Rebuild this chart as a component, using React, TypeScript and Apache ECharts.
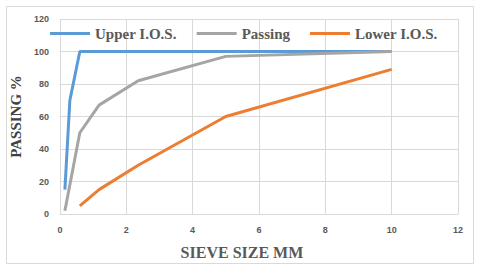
import React, { useEffect, useRef } from "react";
import * as echarts from "echarts";

const upperX = [0.15, 0.3, 0.6, 10];
const upperY = [15, 70, 100, 100];
const passingX = [0.15, 0.6, 1.18, 2.36, 5, 10];
const passingY = [2, 50, 67, 82, 97, 100];
const lowerX = [0.6, 1.18, 2.36, 5, 10];
const lowerY = [5, 15, 30, 60, 89];
const seriesNames = ["Upper I.O.S.", "Passing", "Lower I.O.S."];
const seriesColors = ["#5b9bd5", "#a5a5a5", "#ed7d31"];

const zip = (xs: number[], ys: number[]) => xs.map((x, i) => [x, ys[i]]);

export default function App() {
  const ref = useRef<HTMLDivElement>(null);
  useEffect(() => {
    if (!ref.current) return;
    const chart = echarts.init(ref.current, undefined, { renderer: "svg" });
    const datasets = [zip(upperX, upperY), zip(passingX, passingY), zip(lowerX, lowerY)];
    chart.setOption({
      animation: false,
      backgroundColor: "#ffffff",
      graphic: [
        {
          type: "rect",
          shape: { x: 6.5, y: 6.5, width: 467, height: 257 },
          style: { fill: "none", stroke: "#d9d9d9", lineWidth: 1 },
          z: -1,
        },
      ],
      grid: { left: 58, right: 22, top: 19, bottom: 57 },
      legend: {
        left: 48,
        top: 24,
        padding: [2, 4, 2, 2],
        itemWidth: 40,
        itemHeight: 3,
        itemGap: 20,
        icon: "rect",
        data: seriesNames,
        textStyle: {
          fontFamily: "Liberation Serif",
          fontWeight: "bold",
          fontSize: 15,
          color: "#595959",
        },
      },
      xAxis: {
        type: "value",
        min: 0,
        max: 12,
        interval: 2,
        name: "SIEVE SIZE MM",
        nameLocation: "middle",
        nameGap: 30,
        nameTextStyle: {
          fontFamily: "Liberation Serif",
          fontWeight: "bold",
          fontSize: 16,
          color: "#595959",
          padding: [0, 34, 0, 0],
        },
        axisLine: { show: true, lineStyle: { color: "#d9d9d9" } },
        axisTick: { show: false },
        axisLabel: {
          margin: 11,
          fontFamily: "Liberation Sans",
          fontWeight: "bold",
          fontSize: 9,
          color: "#595959",
        },
        splitLine: { show: true, lineStyle: { color: "#d9d9d9", width: 1 } },
      },
      yAxis: {
        type: "value",
        min: 0,
        max: 120,
        interval: 20,
        name: "PASSING %",
        nameLocation: "middle",
        nameGap: 24,
        nameTextStyle: {
          fontFamily: "Liberation Serif",
          fontWeight: "bold",
          fontSize: 15,
          color: "#404040",
        },
        axisLine: { show: false },
        axisTick: { show: false },
        axisLabel: {
          margin: 11,
          fontFamily: "Liberation Sans",
          fontWeight: "bold",
          fontSize: 9,
          color: "#595959",
        },
        splitLine: { show: true, lineStyle: { color: "#d9d9d9", width: 1 } },
      },
      series: datasets.map((d, i) => ({
        name: seriesNames[i],
        type: "line",
        data: d,
        symbol: "none",
        color: seriesColors[i],
        lineStyle: { width: 3, color: seriesColors[i] },
      })),
    });
    return () => chart.dispose();
  }, []);
  return (
    <div
      ref={ref}
      style={{ position: "fixed", left: 0, top: 0, width: 480, height: 271 }}
    />
  );
}
